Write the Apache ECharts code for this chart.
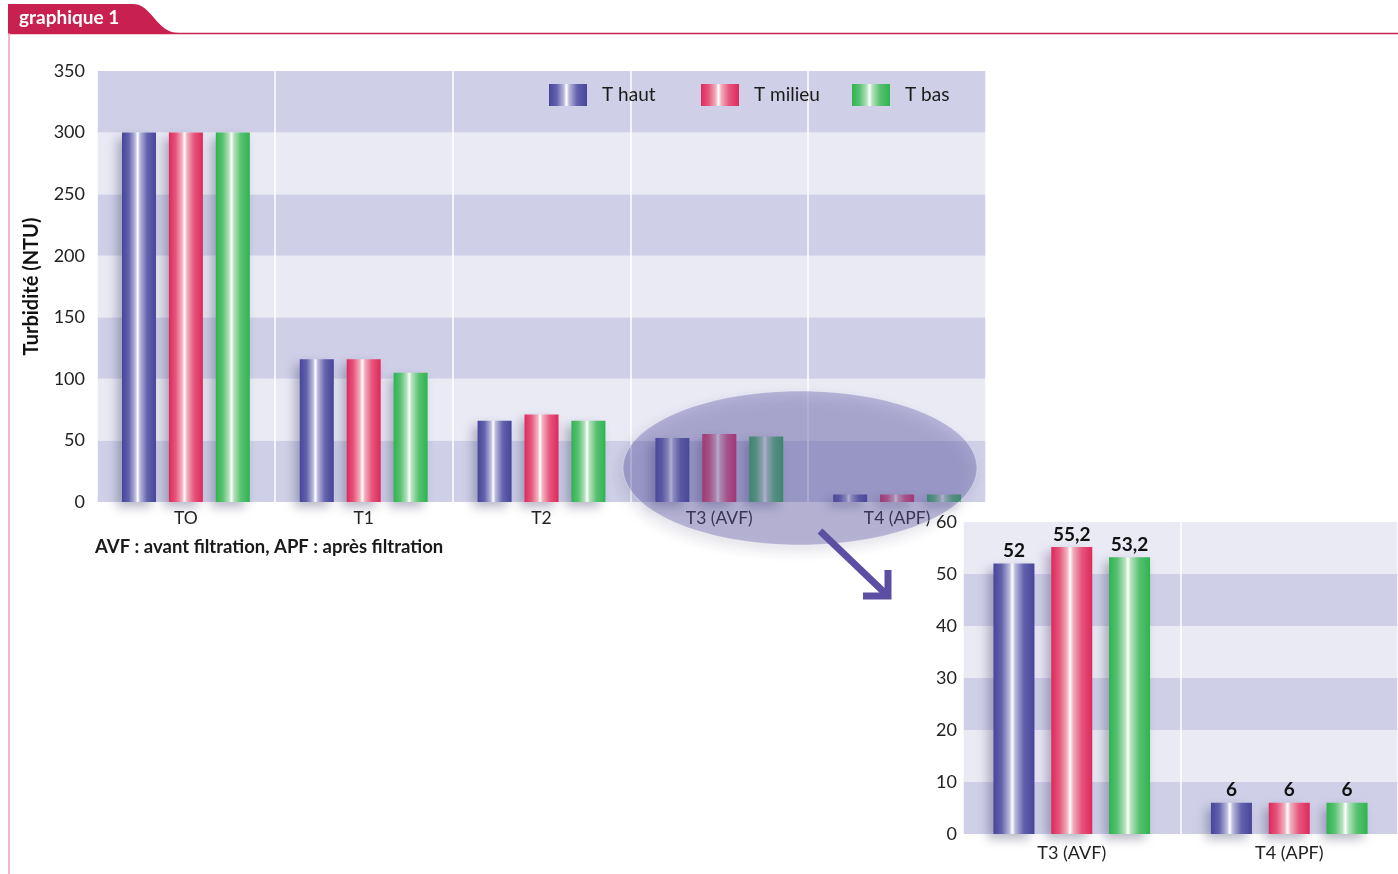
<!DOCTYPE html>
<html>
<head>
<meta charset="utf-8">
<title>graphique 1 – Turbidité</title>
<script src="https://cdn.jsdelivr.net/npm/echarts@6/dist/echarts.min.js"></script>
<style>
  html, body { margin: 0; padding: 0; background: #ffffff; }
  #chart { width: 1398px; height: 874px; }
</style>
</head>
<body>
<div id="chart"></div>
<script>
// Turbidity (NTU) measured at three heights of the tank, at each sampling stage
const categories = ['TO', 'T1', 'T2', 'T3 (AVF)', 'T4 (APF)'];
const tHaut   = [300, 116, 66, 52, 6];
const tMilieu = [300, 116, 71, 55.2, 6];
const tBas    = [300, 105, 66, 53.2, 6];
const seriesNames = ['T haut', 'T milieu', 'T bas'];

// Detail view: the two last stages (before / after filtration)
const zoomCategories = categories.slice(3);
const zoomHaut   = tHaut.slice(3);
const zoomMilieu = tMilieu.slice(3);
const zoomBas    = tBas.slice(3);

const mainTicks = { min: 0, max: 350, interval: 50 };
const zoomTicks = { min: 0, max: 60, interval: 10 };

const FONT = 'Lato, "Open Sans", sans-serif';
const BAND_DARK = '#cfd0e7';
const BAND_LIGHT = '#eaeaf5';

// Cylindrical shading: dark edges with a white highlight left of centre
function tube(edge, mid, soft) {
  return {
    type: 'linear', x: 0, y: 0, x2: 1, y2: 0,
    colorStops: [
      { offset: 0, color: edge },
      { offset: 0.2, color: mid },
      { offset: 0.39, color: soft },
      { offset: 0.46, color: '#ffffff' },
      { offset: 0.53, color: soft },
      { offset: 0.74, color: mid },
      { offset: 1, color: edge }
    ]
  };
}
const fills = [
  tube('#46459a', '#6362ad', '#b9b9dd'),
  tube('#df285c', '#e5567c', '#f3b1bf'),
  tube('#2db44e', '#58c171', '#b6e2bd')
];

const barShadow = {
  shadowColor: 'rgba(50, 50, 90, 0.35)',
  shadowBlur: 10,
  shadowOffsetX: -5,
  shadowOffsetY: 5
};

const commaFmt = p => String(p.value).replace('.', ',');

function mainSeries(name, data, i) {
  return {
    name, type: 'bar', data,
    xAxisIndex: 0, yAxisIndex: 0,
    barWidth: 34, barGap: '38%',
    itemStyle: Object.assign({ color: fills[i] }, barShadow)
  };
}
function zoomSeries(name, data, i) {
  return {
    name, type: 'bar', data,
    xAxisIndex: 1, yAxisIndex: 1,
    barWidth: 41, barGap: '41%',
    itemStyle: Object.assign({ color: fills[i] }, barShadow),
    label: {
      show: true, position: 'top', distance: 3,
      formatter: commaFmt,
      fontFamily: FONT, fontSize: 19, fontWeight: 'bold', color: '#111111'
    }
  };
}

const legendX = [549, 701, 852];
const legends = seriesNames.map((n, i) => ({
  data: [n],
  left: legendX[i], top: 84, padding: 0,
  itemWidth: 38, itemHeight: 22, icon: 'rect',
  selectedMode: false,
  textStyle: { fontFamily: FONT, fontSize: 19, color: '#1a1a1a', padding: [0, 0, 0, 10] }
}));

const yLabel = (margin) => ({
  fontFamily: FONT, fontSize: 18, color: '#222222', margin
});

// Header tab outline: straight top, then an S-curve down to the rule
function tabOutline() {
  const pts = [[8, 4], [133, 4]];
  const p0 = [133, 4], c1 = [152, 4], c2 = [156, 33], p3 = [179, 33];
  for (let k = 1; k <= 20; k++) {
    const t = k / 20, u = 1 - t;
    pts.push([
      u * u * u * p0[0] + 3 * u * u * t * c1[0] + 3 * u * t * t * c2[0] + t * t * t * p3[0],
      u * u * u * p0[1] + 3 * u * u * t * c1[1] + 3 * u * t * t * c2[1] + t * t * t * p3[1]
    ]);
  }
  pts.push([8, 33]);
  return pts;
}

const option = {
  animation: false,
  backgroundColor: '#ffffff',
  legend: legends,
  grid: [
    { left: 97, top: 71, width: 889, height: 431, containLabel: false },
    { left: 963, top: 522, width: 438, height: 312, containLabel: false }
  ],
  xAxis: [
    {
      type: 'category', gridIndex: 0, data: categories,
      axisLine: { show: false }, axisTick: { show: false },
      axisLabel: { fontFamily: FONT, fontSize: 17.5, color: '#222222', margin: 7 },
      splitLine: { show: true, lineStyle: { color: '#ffffff', width: 1.5 } }
    },
    {
      type: 'category', gridIndex: 1, data: zoomCategories,
      axisLine: { show: false }, axisTick: { show: false },
      axisLabel: { fontFamily: FONT, fontSize: 18, color: '#222222', margin: 10 },
      splitLine: { show: true, lineStyle: { color: '#ffffff', width: 1.5 } }
    }
  ],
  yAxis: [
    {
      type: 'value', gridIndex: 0,
      min: mainTicks.min, max: mainTicks.max, interval: mainTicks.interval,
      name: 'Turbidité (NTU)', nameLocation: 'middle', nameGap: 55, nameRotate: 90,
      nameTextStyle: { fontFamily: FONT, fontSize: 20, fontWeight: 'bold', color: '#111111' },
      axisLine: { show: false }, axisTick: { show: false },
      axisLabel: yLabel(12),
      splitLine: { show: false },
      splitArea: { show: true, areaStyle: { color: [BAND_DARK, BAND_LIGHT] } }
    },
    {
      type: 'value', gridIndex: 1,
      min: zoomTicks.min, max: zoomTicks.max, interval: zoomTicks.interval,
      axisLine: { show: false }, axisTick: { show: false },
      axisLabel: yLabel(6),
      splitLine: { show: false },
      splitArea: { show: true, areaStyle: { color: [BAND_DARK, BAND_LIGHT] } }
    }
  ],
  series: [
    mainSeries(seriesNames[0], tHaut, 0),
    mainSeries(seriesNames[1], tMilieu, 1),
    mainSeries(seriesNames[2], tBas, 2),
    zoomSeries(seriesNames[0], zoomHaut, 0),
    zoomSeries(seriesNames[1], zoomMilieu, 1),
    zoomSeries(seriesNames[2], zoomBas, 2)
  ],
  graphic: [
    // header tab
    {
      type: 'polygon', z: 50,
      shape: { points: tabOutline() },
      style: { fill: '#c8214f' }
    },
    {
      type: 'text', z: 51, left: 19, top: 8,
      style: { text: 'graphique 1', fill: '#ffffff', font: 'bold 19px ' + FONT }
    },
    {
      type: 'line', z: 50,
      shape: { x1: 8, y1: 33.5, x2: 1398, y2: 33.5 },
      style: { stroke: '#c8214f', lineWidth: 1.5 }
    },
    {
      type: 'line', z: 50,
      shape: { x1: 9, y1: 33, x2: 9, y2: 874 },
      style: { stroke: '#eaa3b6', lineWidth: 1.5 }
    },
    // highlight over the two last stages
    {
      type: 'ellipse', z: 40,
      shape: { cx: 800, cy: 468, rx: 177, ry: 77 },
      style: {
        fill: 'rgba(92, 86, 166, 0.36)',
        stroke: 'rgba(255,255,255,0.35)', lineWidth: 1,
        shadowColor: 'rgba(40, 30, 90, 0.35)', shadowBlur: 14,
        shadowOffsetX: -4, shadowOffsetY: 6
      }
    },
    // arrow towards the detail view
    {
      type: 'polyline', z: 45,
      shape: { points: [[820, 531], [888, 596]] },
      style: { stroke: '#5b4ea3', lineWidth: 7 }
    },
    {
      type: 'polyline', z: 45,
      shape: { points: [[863, 596], [888, 596], [888, 570]] },
      style: { stroke: '#5b4ea3', lineWidth: 7, lineJoin: 'miter', fill: null }
    },
    // footnote
    {
      type: 'text', z: 50, left: 95, top: 538,
      style: {
        text: 'AVF : avant filtration, APF : après filtration',
        fill: '#1a1a1a', font: 'bold 18.5px ' + FONT
      }
    }
  ]
};

const chart = echarts.init(document.getElementById('chart'), null, { renderer: 'canvas' });
chart.setOption(option);
</script>
</body>
</html>
